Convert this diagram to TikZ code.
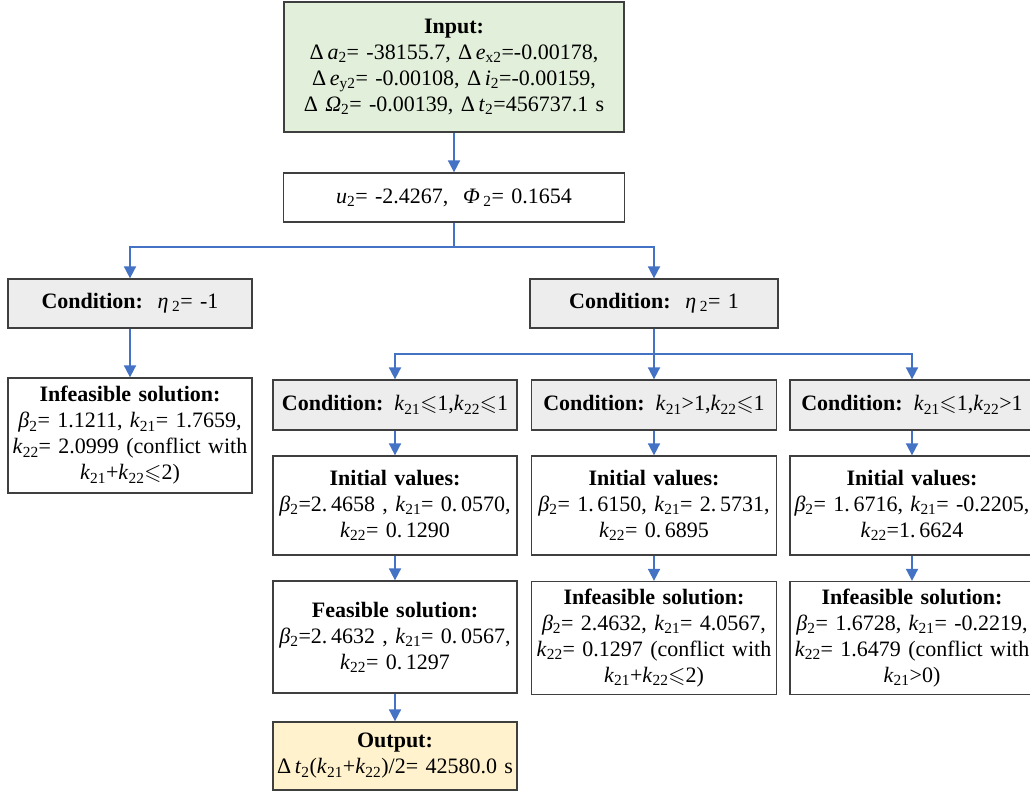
\documentclass[tikz,border=0pt]{standalone}
\usepackage{fontspec}
\usepackage{amssymb}
\setmainfont{Liberation Serif}
\usetikzlibrary{arrows.meta}
\definecolor{bordc}{HTML}{3F3F3F}
\definecolor{greenf}{HTML}{E2EFDA}
\definecolor{grayf}{HTML}{EDEDED}
\definecolor{yellowf}{HTML}{FFF2CC}
\definecolor{arrc}{HTML}{4472C4}
\newcommand\iv[2]{\textit{#1}\textsubscript{#2}}
\newcommand\lsq{$\leqslant$}
\tikzset{
  box/.style={draw=bordc, line width=1.3pt, inner sep=0pt, align=center,
    font=\fontsize{22}{26}\selectfont},
  arr/.style={draw=arrc, line width=1.8pt, -{Triangle[width=12pt,length=12pt]}},
}
\begin{document}
\begin{tikzpicture}[x=1pt,y=-1pt]
\useasboundingbox (0,0) rectangle (1030,793);
\node[box, fill=greenf, text width=340pt, minimum height=130pt] (in) at (454,67)
 {\textbf{Input:}\\
  Δ\,\iv{a}{2}= -38155.7,\ Δ\,\iv{e}{x2}=-0.00178,\\
  Δ\,\iv{e}{y2}= -0.00108,\ Δ\,\iv{i}{2}=-0.00159,\\
  Δ\ \iv{Ω}{2}= -0.00139,\ Δ\,\iv{t}{2}=456737.1 s};
\node[box, text width=341pt, minimum height=49pt] (u) at (454,197.5)
 {\iv{u}{2}= -2.4267,\ \ \textit{Φ}\,\textsubscript{2}= 0.1654};
\node[box, fill=grayf, text width=244pt, minimum height=49pt] (cl) at (130,303.5)
 {\textbf{Condition:}\ \ \textit{η}\,\textsubscript{2}= -1};
\node[box, fill=grayf, text width=248pt, minimum height=49pt] (cr) at (654,303.5)
 {\textbf{Condition:}\ \ \textit{η}\,\textsubscript{2}= 1};
\node[box, text width=244pt, minimum height=115pt] (il) at (130,435.5)
 {\textbf{Infeasible solution:}\\
  \iv{β}{2}= 1.1211, \iv{k}{21}= 1.7659,\\
  \iv{k}{22}= 2.0999 (conflict with\\
  \iv{k}{21}+\iv{k}{22}\lsq2)};
% column 1
\node[box, fill=grayf, text width=244pt, minimum height=50pt] (c1) at (395,405)
 {\textbf{Condition:} \iv{k}{21}\lsq1,\iv{k}{22}\lsq1};
\node[box, text width=244pt, minimum height=99pt] (v1) at (395,505.5)
 {\textbf{Initial values:}\\
  \iv{β}{2}=2.\,4658 , \iv{k}{21}= 0.\,0570,\\
  \iv{k}{22}= 0.\,1290};
\node[box, text width=244pt, minimum height=112pt] (s1) at (395,637)
 {\textbf{Feasible solution:}\\
  \iv{β}{2}=2.\,4632 , \iv{k}{21}= 0.\,0567,\\
  \iv{k}{22}= 0.\,1297};
\node[box, fill=yellowf, text width=244pt, minimum height=68pt] (out) at (395,756)
 {\textbf{Output:}\\
  Δ\,\iv{t}{2}(\iv{k}{21}+\iv{k}{22})/2= 42580.0 s};
% column 2
\node[box, fill=grayf, text width=245pt, minimum height=50pt] (c2) at (654,405)
 {\textbf{Condition:} \iv{k}{21}>1,\iv{k}{22}\lsq1};
\node[box, text width=245pt, minimum height=99pt] (v2) at (654,505.5)
 {\textbf{Initial values:}\\
  \iv{β}{2}= 1.\,6150, \iv{k}{21}= 2.\,5731,\\
  \iv{k}{22}= 0.\,6895};
\node[box, text width=245pt, minimum height=113pt] (s2) at (654,638)
 {\textbf{Infeasible solution:}\\
  \iv{β}{2}= 2.4632, \iv{k}{21}= 4.0567,\\
  \iv{k}{22}= 0.1297 (conflict with\\
  \iv{k}{21}+\iv{k}{22}\lsq2)};
% column 3
\node[box, fill=grayf, text width=244pt, minimum height=50pt] (c3) at (912,405)
 {\textbf{Condition:} \iv{k}{21}\lsq1,\iv{k}{22}>1};
\node[box, text width=244pt, minimum height=99pt] (v3) at (912,505.5)
 {\textbf{Initial values:}\\
  \iv{β}{2}= 1.\,6716, \iv{k}{21}= -0.2205,\\
  \iv{k}{22}=1.\,6624};
\node[box, text width=244pt, minimum height=113pt] (s3) at (912,638)
 {\textbf{Infeasible solution:}\\
  \iv{β}{2}= 1.6728, \iv{k}{21}= -0.2219,\\
  \iv{k}{22}= 1.6479 (conflict with\\
  \iv{k}{21}>0)};
% connectors
\draw[arr] (in) -- (u);
\draw[arr] (u.south) -- ++(0,24) -| (cl.north);
\draw[arr] (u.south) -- ++(0,24) -| (cr.north);
\draw[arr] (cl) -- (il);
\draw[arr] (cr.south) -- ++(0,25) -| (c1.north);
\draw[arr] (cr.south) -- (c2.north);
\draw[arr] (cr.south) -- ++(0,25) -| (c3.north);
\draw[arr] (c1) -- (v1);
\draw[arr] (v1) -- (s1);
\draw[arr] (s1) -- (out);
\draw[arr] (c2) -- (v2);
\draw[arr] (v2) -- (s2);
\draw[arr] (c3) -- (v3);
\draw[arr] (v3) -- (s3);
\end{tikzpicture}
\end{document}
